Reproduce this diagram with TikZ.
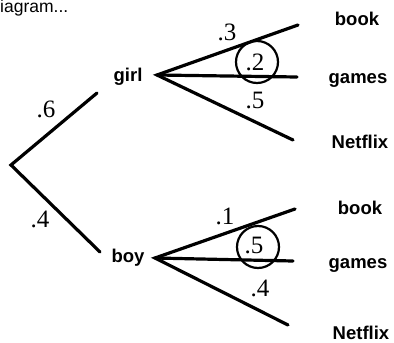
\documentclass[tikz,border=0pt]{standalone}
\usepackage{fontspec}
\setmainfont{Liberation Serif}
\setsansfont{Liberation Sans}
\begin{document}
\begin{tikzpicture}[x=1pt,y=-1pt,
  branch/.style={line width=3.2pt,line cap=round},
  word/.style={font=\sffamily\bfseries\fontsize{18.5}{18.5}\selectfont,inner sep=0pt},
  prob/.style={font=\fontsize{25}{25}\selectfont,inner sep=0pt},
  ring/.style={line width=2.2pt}]
\useasboundingbox[fill=white] (0,0) rectangle (394,343);
\node[font=\sffamily\fontsize{17.5}{17.5}\selectfont,anchor=base west,inner sep=0pt] (head) at (0,12.5) {iagram...};
% first stage
\coordinate (root) at (11,165);
\coordinate (g0) at (97,93);
\coordinate (b0) at (100,252);
\draw[branch] (g0) -- (root) -- (b0);
\node[prob] (p6) at (46,109) {.6};
\node[prob] (p4) at (40,219) {.4};
\node[word] (girl) at (128,77) {girl};
\node[word] (boy) at (128,258) {boy};
% girl fan
\coordinate (gv) at (157,75);
\coordinate (g1) at (298,25);
\coordinate (g2) at (297,77);
\coordinate (g3) at (293,140);
\draw[branch] (g1) -- (gv) -- (g3);
\draw[branch] (gv) -- (g2);
\node[word] (gbook) at (357,19) {book};
\node[word] (ggames) at (358,80) {games};
\node[word] (gnet) at (360,142) {Netflix};
\node[prob] (p3) at (227,32) {.3};
\node[prob] (p2) at (255,62) {.2};
\node[prob] (p5) at (255,100) {.5};
\draw[ring] (257,62) circle[radius=21];
% boy fan
\coordinate (bv) at (155,258);
\coordinate (b1) at (295,209);
\coordinate (b2) at (293,261);
\coordinate (b3) at (288,325);
\draw[branch] (b1) -- (bv) -- (b3);
\draw[branch] (bv) -- (b2);
\node[word] (bbook) at (360,208) {book};
\node[word] (bgames) at (358,265) {games};
\node[word] (bnet) at (361,333) {Netflix};
\node[prob] (q1) at (225,216) {.1};
\node[prob] (q5) at (254,245) {.5};
\node[prob] (q4) at (260,288) {.4};
\draw[ring] (258,247) circle[radius=21];
\end{tikzpicture}
\end{document}
